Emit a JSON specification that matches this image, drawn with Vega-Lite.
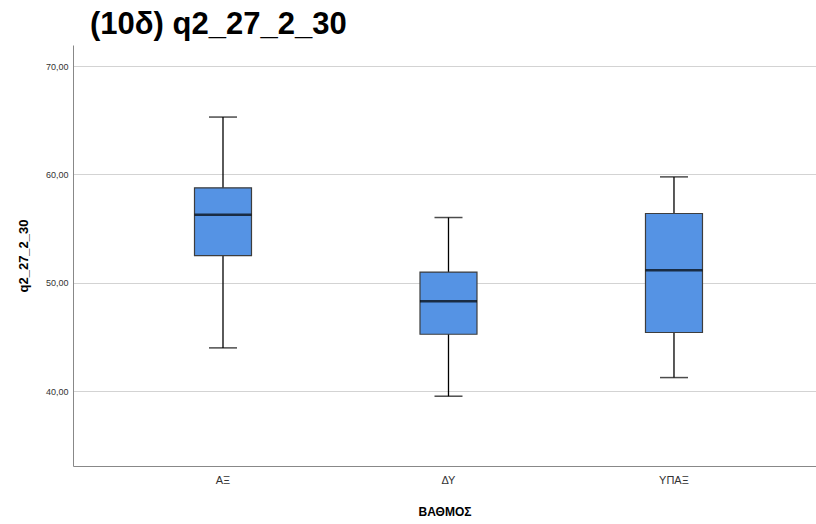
{
  "$schema": "https://vega.github.io/schema/vega-lite/v6.json",
  "autosize": "none",
  "width": 743,
  "height": 421,
  "padding": {"left": 73, "top": 45, "right": 0, "bottom": 58},
  "background": "white",
  "title": {
    "text": "(10δ) q2_27_2_30",
    "anchor": "start",
    "frame": "group",
    "dx": 17,
    "offset": 4,
    "fontSize": 31,
    "fontWeight": "bold",
    "font": "Liberation Sans",
    "color": "#000000"
  },
  "data": {
    "values": [
      {"ΒΑΘΜΟΣ": "ΑΞ", "lower": 44.0, "q1": 52.52, "median": 56.28, "q3": 58.77, "upper": 65.3},
      {"ΒΑΘΜΟΣ": "ΔΥ", "lower": 39.54, "q1": 45.26, "median": 48.3, "q3": 51.0, "upper": 56.03},
      {"ΒΑΘΜΟΣ": "ΥΠΑΞ", "lower": 41.26, "q1": 45.42, "median": 51.17, "q3": 56.4, "upper": 59.78}
    ]
  },
  "encoding": {
    "x": {
      "field": "ΒΑΘΜΟΣ",
      "type": "nominal",
      "sort": ["ΑΞ", "ΔΥ", "ΥΠΑΞ"],
      "scale": {"paddingInner": 0, "paddingOuter": 0.1475, "align": 0.56},
      "axis": {
        "title": "ΒΑΘΜΟΣ",
        "labelAngle": 0,
        "labelFontSize": 11,
        "labelColor": "#333333",
        "labelFont": "Liberation Sans",
        "labelPadding": 8,
        "ticks": false,
        "domainColor": "#888888",
        "titleFont": "Liberation Sans",
        "titleFontSize": 12,
        "titleFontWeight": "bold",
        "titleColor": "#000000",
        "titlePadding": 21,
        "grid": false
      }
    }
  },
  "layer": [
    {
      "mark": {"type": "rule", "color": "#000000", "strokeWidth": 1.3},
      "encoding": {
        "y": {
          "field": "lower",
          "type": "quantitative",
          "scale": {"domain": [33.1, 71.95], "nice": false, "zero": false},
          "axis": {
            "title": "q2_27_2_30",
            "values": [40, 50, 60, 70],
            "labelExpr": "replace(format(datum.value, '.2f'), '.', ',')",
            "labelFontSize": 9,
            "labelColor": "#333333",
            "labelFont": "Liberation Sans",
            "labelPadding": 5,
            "ticks": false,
            "domainColor": "#888888",
            "grid": true,
            "gridColor": "#d3d3d3",
            "gridWidth": 1.2,
            "titleFont": "Liberation Sans",
            "titleFontSize": 13,
            "titleFontWeight": "bold",
            "titleColor": "#000000",
            "titlePadding": 15
          }
        },
        "y2": {"field": "upper"}
      }
    },
    {
      "mark": {"type": "bar", "size": 57, "color": "#5593e4", "stroke": "#3d3d3d", "strokeWidth": 1.2},
      "encoding": {
        "y": {"field": "q1", "type": "quantitative"},
        "y2": {"field": "q3"}
      }
    },
    {
      "mark": {"type": "tick", "size": 57, "thickness": 2.5, "color": "#000000"},
      "encoding": {"y": {"field": "median", "type": "quantitative"}}
    },
    {
      "mark": {"type": "tick", "size": 28, "thickness": 1.5, "color": "#000000"},
      "encoding": {"y": {"field": "lower", "type": "quantitative"}}
    },
    {
      "mark": {"type": "tick", "size": 28, "thickness": 1.5, "color": "#000000"},
      "encoding": {"y": {"field": "upper", "type": "quantitative"}}
    }
  ],
  "config": {
    "view": {"stroke": null}
  }
}
